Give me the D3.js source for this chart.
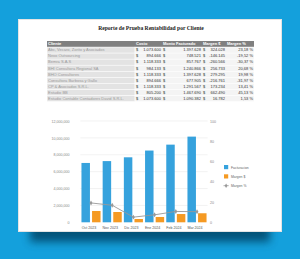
<!DOCTYPE html>
<html><head><meta charset="utf-8">
<script src="https://cdn.jsdelivr.net/npm/d3@7"></script>
<style>html,body{margin:0;padding:0;background:#14a0dc;}svg{display:block;}</style>
</head><body>
<svg id="c" width="300" height="259"></svg>
<script>
// ---- data ----
const title = "Reporte de Prueba Rentabilidad por Cliente";
const tableHeaders = ["Cliente", "Costo", "Monto Facturado", "Margen $", "Margen %"];
const clients = ["Abc, Vecaro, Zorito y Asociados", "Nexo Outsourcing", "Bemra S.A.S", "BHI Consultora Regional SA", "BHO Consultores", "Consultora Barbosa y Gallo", "CP & Asociados S.R.L.", "Estudio BB", "Estudio Contable Contadores David S.R.L."];
const costo = ["1.073.600", "894.666", "1.118.333", "984.133", "1.118.333", "894.666", "1.118.333", "805.200", "1.073.600"];
const montoFacturado = ["1.397.628", "748.521", "857.767", "1.240.866", "1.397.628", "677.905", "1.291.567", "1.467.690", "1.090.382"];
const margenPesos = ["324.028", "-146.145", "-260.566", "256.733", "279.295", "-216.761", "173.234", "662.490", "16.782"];
const margenPct = ["23,18 %", "-19,52 %", "-30,37 %", "20,68 %", "19,98 %", "-31,97 %", "13,41 %", "45,13 %", "1,53 %"];

const months = ["Oct 2023", "Nov 2023", "Dic 2023", "Ene 2024", "Feb 2024", "Mar 2024"];
const facturacion = [7030000, 7250000, 7700000, 8500000, 9200000, 10150000];
const margenDinero = [1340000, 1220000, 390000, 630000, 980000, 1070000];
const margenPorc = [19.1, 16.8, 5.1, 7.4, 10.7, 10.5];
const leftTicks = [0, 2000000, 4000000, 6000000, 8000000, 10000000, 12000000];
const rightTicks = [0, 20, 40, 60, 80, 100];
const seriesNames = ["Facturacion", "Margen $", "Margen %"];

// ---- drawing ----
const svg = d3.select("#c");
const defs = svg.append("defs");
const f = defs.append("filter").attr("id","sh").attr("x","-20%").attr("y","-50%").attr("width","140%").attr("height","200%");
f.append("feGaussianBlur").attr("stdDeviation", 4.5);

// background
svg.append("rect").attr("width",300).attr("height",259).attr("fill","#14a0dc");
// shadow
svg.append("rect").attr("x",30).attr("y",222).attr("width",240).attr("height",20)
  .attr("fill","#033f60").attr("opacity",0.8).attr("filter","url(#sh)");
// page
svg.append("rect").attr("x",18).attr("y",19).attr("width",264).attr("height",213).attr("fill","#ffffff");
svg.append("rect").attr("x",18.5).attr("y",19.5).attr("width",263).attr("height",212)
  .attr("fill","none").attr("stroke","#e4e4e4").attr("stroke-width",1);

// title
svg.append("text").attr("x",151).attr("y",30).attr("text-anchor","middle")
  .attr("font-family","Liberation Serif, serif").attr("font-weight","bold").attr("font-size",5.6)
  .attr("fill","#222").text(title);

// table
const colX = [47, 135, 162, 202, 226, 254];
const rowH = 6.05, tTop = 41;
const tbl = svg.append("g").attr("font-family","Liberation Sans, Arial, sans-serif").attr("font-size",4.0);
tbl.append("rect").attr("x",colX[0]).attr("y",tTop).attr("width",colX[5]-colX[0]).attr("height",rowH).attr("fill","#808080");
tableHeaders.forEach((h,i)=>{
  tbl.append("text").attr("x",colX[i]+1).attr("y",tTop+4.4).attr("fill","#fff").attr("font-weight","bold").text(h);
});
clients.forEach((c,r)=>{
  const y = tTop + rowH*(r+1);
  tbl.append("rect").attr("x",colX[0]).attr("y",y).attr("width",colX[1]-colX[0]).attr("height",rowH)
    .attr("fill", "#e3e3e3").attr("stroke","#fff").attr("stroke-width",0.5);
  tbl.append("rect").attr("x",colX[1]).attr("y",y).attr("width",colX[5]-colX[1]).attr("height",rowH)
    .attr("fill", "#f4f4f4").attr("stroke","#fff").attr("stroke-width",0.5);
  tbl.append("text").attr("x",colX[0]+1).attr("y",y+4.3).attr("fill","#9a9a9a").text(c);
  const nums = [costo[r], montoFacturado[r], margenPesos[r]];
  nums.forEach((n,k)=>{
    tbl.append("text").attr("x",colX[k+1]+1).attr("y",y+4.3).attr("fill","#333").text("$");
    tbl.append("text").attr("x",colX[k+2]-1).attr("y",y+4.3).attr("fill","#333").attr("text-anchor","end").text(n);
  });
  tbl.append("text").attr("x",colX[5]-1).attr("y",y+4.3).attr("fill","#333").attr("text-anchor","end").text(margenPct[r]);
});

// chart
const plotL = 80.4, plotR = 207.6, plotT = 121, plotB = 222.3;
const x = d3.scaleBand().domain(months).range([plotL, plotR]).paddingInner(0.1).paddingOuter(0.05);
const xs = d3.scaleBand().domain([0,1]).range([0, x.bandwidth()]).paddingInner(0.2);
const yL = d3.scaleLinear().domain([0, 12000000]).range([plotB, plotT]);
const yR = d3.scaleLinear().domain([0, 100]).range([plotB, plotT]);
const ch = svg.append("g").attr("font-family","Liberation Sans, Arial, sans-serif");

ch.append("g").selectAll("line").data(leftTicks.slice(1)).join("line")
  .attr("x1",plotL).attr("x2",plotR).attr("y1",d=>yL(d)).attr("y2",d=>yL(d))
  .attr("stroke","#ececec").attr("stroke-width",0.7);

const axL = ch.append("g").attr("transform",`translate(${plotL-11},0)`)
  .call(d3.axisLeft(yL).tickValues(leftTicks).tickSize(0).tickPadding(0).tickFormat(d3.format(",")));
axL.select(".domain").remove();
axL.selectAll("text").attr("font-size",3.6).attr("fill","#888").attr("font-family","Liberation Sans, Arial, sans-serif");

const axR = ch.append("g").attr("transform",`translate(${plotR+2.5},0)`)
  .call(d3.axisRight(yR).tickValues(rightTicks).tickSize(0).tickPadding(0));
axR.select(".domain").remove();
axR.selectAll("text").attr("font-size",3.6).attr("fill","#888").attr("font-family","Liberation Sans, Arial, sans-serif");

const axB = ch.append("g").attr("transform",`translate(-2,${plotB})`)
  .call(d3.axisBottom(x).tickSize(0).tickPadding(4.3));
axB.select(".domain").remove();
axB.selectAll("text").attr("font-size",3.6).attr("fill","#555").attr("font-family","Liberation Sans, Arial, sans-serif");

ch.append("g").selectAll("rect").data(facturacion).join("rect")
  .attr("x",(d,i)=>x(months[i])+xs(0)).attr("width",xs.bandwidth())
  .attr("y",d=>yL(d)).attr("height",d=>plotB-yL(d)).attr("fill","#36a2dd");
ch.append("g").selectAll("rect").data(margenDinero).join("rect")
  .attr("x",(d,i)=>x(months[i])+xs(1)).attr("width",xs.bandwidth())
  .attr("y",d=>yL(d)).attr("height",d=>plotB-yL(d)).attr("fill","#f59a23");

const line = d3.line().x((d,i)=>x(months[i])+x.bandwidth()/2).y(d=>yR(d));
ch.append("path").datum(margenPorc).attr("d",line).attr("fill","none").attr("stroke","#999").attr("stroke-width",0.9);
ch.append("g").selectAll("path").data(margenPorc).join("path")
  .attr("d",d3.symbol(d3.symbolDiamond,7))
  .attr("transform",(d,i)=>`translate(${x(months[i])+x.bandwidth()/2},${yR(d)})`)
  .attr("fill","#999");

// legend
const legColors = ["#36a2dd","#f59a23"];
const lg = ch.append("g").attr("transform","translate(224,165)");
seriesNames.forEach((n,i)=>{
  const g = lg.append("g").attr("transform",`translate(0,${i*9.3})`);
  if (i<2) g.append("rect").attr("width",4.2).attr("height",4.2).attr("fill",legColors[i]);
  else {
    g.append("line").attr("x1",-0.5).attr("x2",4.7).attr("y1",2.1).attr("y2",2.1).attr("stroke","#999").attr("stroke-width",0.8);
    g.append("path").attr("d",d3.symbol(d3.symbolDiamond,6)).attr("transform","translate(2.1,2.1)").attr("fill","#999");
  }
  g.append("text").attr("x",7).attr("y",3.6).attr("font-size",3.4).attr("fill","#666").text(n);
});
</script>
</body></html>
